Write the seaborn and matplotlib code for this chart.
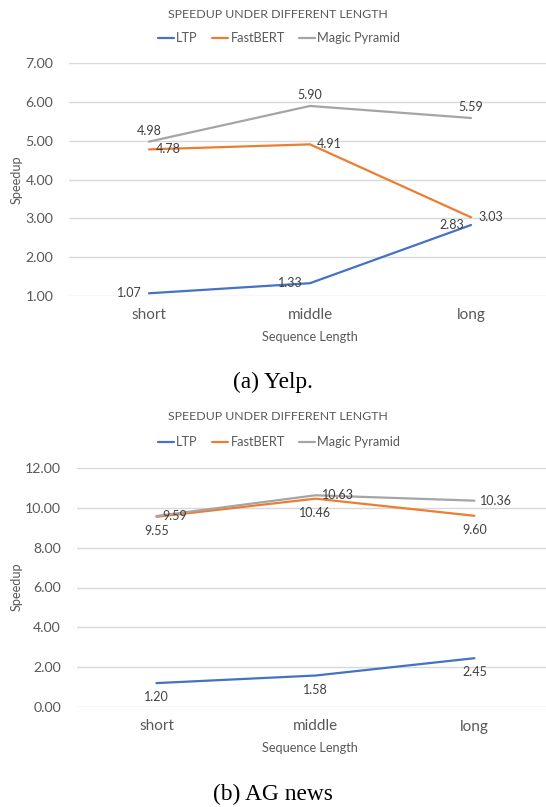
import pandas as pd
import matplotlib
matplotlib.use("Agg")
import matplotlib.pyplot as plt
import seaborn as sns

# data
lengths = ['short', 'middle', 'long']
models = ['LTP', 'FastBERT', 'Magic Pyramid']

yelp_ltp = [1.07, 1.33, 2.83]
yelp_fastbert = [4.78, 4.91, 3.03]
yelp_magic = [4.98, 5.90, 5.59]

ag_ltp = [1.20, 1.58, 2.45]
ag_fastbert = [9.55, 10.46, 9.60]
ag_magic = [9.59, 10.63, 10.36]

yelp_ticks = [1, 2, 3, 4, 5, 6, 7]
ag_ticks = [0, 2, 4, 6, 8, 10, 12]

colors = {'LTP': '#4472C4', 'FastBERT': '#ED7D31', 'Magic Pyramid': '#A5A5A5'}
TXT = '#595959'
GRID = '#D9D9D9'

sns.set_style("white")
plt.rcParams['font.family'] = ['Lato', 'DejaVu Sans']

W, H = 546, 807
fig = plt.figure(figsize=(W / 100, H / 100), dpi=100)


def long_df(ltp, fast, magic):
    rows = []
    for name, vals in zip(models, [ltp, fast, magic]):
        for cat, v in zip(lengths, vals):
            rows.append({'Sequence Length': cat, 'Speedup': v, 'model': name})
    return pd.DataFrame(rows)


def draw(rect, df, ticks, xmax, label_style, title_y, legend_y, ytick_pad,
         xlabel_y, ylabel_xy, caption, caption_y):
    ax = fig.add_axes(rect)
    sns.lineplot(data=df, x='Sequence Length', y='Speedup', hue='model',
                 palette=colors, linewidth=1.6, ax=ax, legend=False, sort=False)
    ax.set_xlim(-0.5, xmax)
    ax.set_ylim(ticks[0], ticks[-1])
    ax.set_yticks(ticks)
    ax.set_yticklabels([f'{t:.2f}' for t in ticks])
    ax.yaxis.grid(True, color=GRID, linewidth=1.0)
    ax.xaxis.grid(False)
    for s in ax.spines.values():
        s.set_visible(False)
    ax.tick_params(axis='y', length=0, pad=ytick_pad, labelsize=10.2, labelcolor=TXT)
    ax.tick_params(axis='x', length=0, pad=9.0, labelsize=11.0, labelcolor=TXT)

    # data labels
    for name in models:
        sub = df[df['model'] == name]
        dx, dy, ha, va = label_style[name]
        for i, (cat, v) in enumerate(zip(sub['Sequence Length'], sub['Speedup'])):
            ax.annotate(f'{v:.2f}', xy=(i, v), xytext=(dx, dy),
                        textcoords='offset pixels', ha=ha, va=va,
                        fontsize=9.0, color='#404040')

    # axis titles
    ax.set_xlabel('Sequence Length', fontsize=9.2, color=TXT)
    ax.set_ylabel('Speedup', fontsize=9.2, color=TXT)
    ax.xaxis.label.set_va('center')
    ax.yaxis.label.set_va('center')
    inv = ax.transAxes.inverted()
    ax.xaxis.set_label_coords(*inv.transform(fig.transFigure.transform((0.568, 1 - xlabel_y / H))))
    ax.yaxis.set_label_coords(*inv.transform(fig.transFigure.transform((ylabel_xy[0] / W, 1 - ylabel_xy[1] / H))))

    fig.text(278 / W, 1 - title_y / H, 'SPEEDUP UNDER DIFFERENT LENGTH',
             ha='center', va='center', fontsize=8.9, color=TXT)
    handles = [plt.Line2D([], [], color=colors[m], linewidth=1.6) for m in models]
    fig.legend(handles, models, loc='center', bbox_to_anchor=(279 / W, 1 - legend_y / H),
               ncol=3, frameon=False, fontsize=9.2, labelcolor=TXT,
               handlelength=1.3, handletextpad=0.15, columnspacing=1.1,
               borderpad=0, borderaxespad=0)
    fig.text(0.5, 1 - caption_y / H, caption, ha='center', va='center',
             fontsize=16.8, family='Liberation Serif', color='black')
    return ax


yelp_style = {
    'LTP': (-7, 0, 'right', 'center'),
    'FastBERT': (7, 0, 'left', 'center'),
    'Magic Pyramid': (0, 11, 'center', 'center'),
}
ag_style = {
    'LTP': (0, -14, 'center', 'center'),
    'FastBERT': (0, -14.5, 'center', 'center'),
    'Magic Pyramid': (6, 0, 'left', 'center'),
}

draw([68.5 / W, 1 - 296 / H, 1 - 68.5 / W, 232.7 / H],
     long_df(yelp_ltp, yelp_fastbert, yelp_magic), yelp_ticks, 2.466,
     yelp_style, 14, 38, 11.0, 337, (17, 180), '(a) Yelp.', 382)

draw([77 / W, 1 - 707 / H, 1 - 77 / W, 239 / H],
     long_df(ag_ltp, ag_fastbert, ag_magic), ag_ticks, 2.45,
     ag_style, 417, 442, 11.5, 748, (17, 587), '(b) AG news', 794)

fig.savefig('out.png', dpi=100)
